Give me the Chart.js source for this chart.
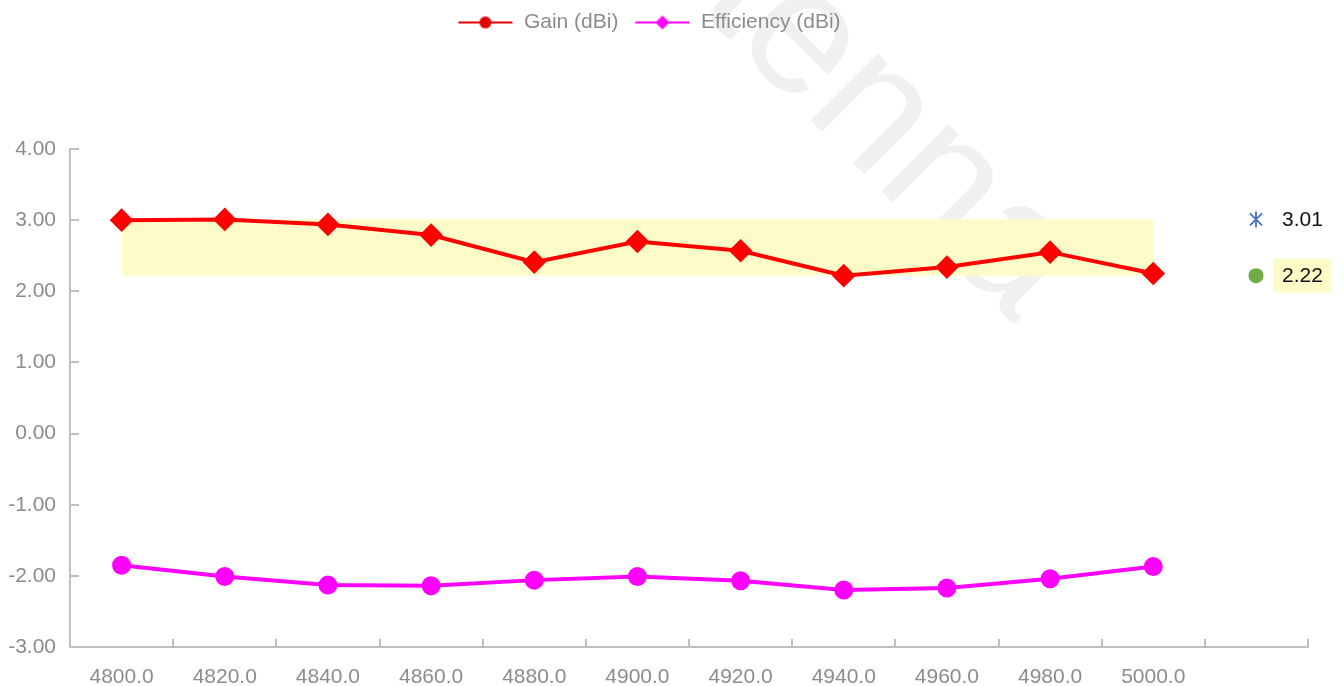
<!DOCTYPE html>
<html lang="en">
<head>
    <meta charset="UTF-8">
    <title>Gain / Efficiency</title>
    <script src="https://cdn.jsdelivr.net/npm/chart.js"></script>
    <style>
        html, body { margin: 0; padding: 0; background: #fff; }
        #wrap { width: 1344px; height: 686px; }
    </style>
</head>
<body>
    <div id="wrap"><canvas id="gainChart"></canvas></div>
    <script>
        // frequencies (MHz); last slot is left empty like the original sheet
        const freqs = ['4800.0', '4820.0', '4840.0', '4860.0', '4880.0', '4900.0', '4920.0', '4940.0', '4960.0', '4980.0', '5000.0', ''];
        const gain = [3.00, 3.01, 2.94, 2.79, 2.41, 2.70, 2.57, 2.22, 2.34, 2.55, 2.25, null];
        const efficiency = [-1.85, -2.01, -2.13, -2.14, -2.06, -2.01, -2.07, -2.20, -2.17, -2.04, -1.87, null];
        const yMin = -3, yMax = 4;

        const FONT = "'Liberation Sans', Arial, sans-serif";
        Chart.defaults.font.family = FONT;
        Chart.defaults.font.size = 21;

        const gainVals = gain.filter(v => v !== null);
        const gainMax = Math.max(...gainVals);
        const gainMin = Math.min(...gainVals);

        function legendIcon(color, shape) {
            const c = document.createElement('canvas');
            c.width = 56; c.height = 18;
            const g = c.getContext('2d');
            g.strokeStyle = color; g.fillStyle = color; g.lineWidth = 2;
            g.beginPath(); g.moveTo(1, 9); g.lineTo(55, 9); g.stroke();
            g.beginPath();
            if (shape === 'circle') {
                g.arc(28, 9, 6, 0, Math.PI * 2);
            } else {
                g.moveTo(28, 2); g.lineTo(35, 9); g.lineTo(28, 16); g.lineTo(21, 9); g.closePath();
            }
            g.fill();
            return c;
        }
        const icons = [legendIcon('#e00000', 'circle'), legendIcon('#ff00ff', 'diamond')];

        const legendSpace = {
            id: 'legendSpace',
            beforeInit(chart) {
                const fit = chart.legend.fit;
                chart.legend.fit = function () {
                    fit.bind(chart.legend)();
                    this.height = 153;
                };
            }
        };

        const extras = {
            id: 'extras',
            beforeDraw(chart) {
                // faint watermark
                const ctx = chart.ctx;
                ctx.save();
                ctx.translate(540, -150);
                ctx.rotate(Math.PI / 4);
                ctx.font = '180px ' + FONT;
                ctx.fillStyle = 'rgba(0,0,0,0.06)';
                ctx.textBaseline = 'alphabetic';
                ctx.fillText('Antenna', 0, 0);
                ctx.restore();
            },
            beforeDatasetsDraw(chart) {
                const { ctx, scales: { x, y } } = chart;
                ctx.save();
                ctx.fillStyle = '#fdfcc8';
                const x0 = x.getPixelForValue(0), x1 = x.getPixelForValue(gainVals.length - 1);
                const y0 = y.getPixelForValue(gainMax), y1 = y.getPixelForValue(gainMin);
                ctx.fillRect(x0, y0, x1 - x0, y1 - y0);
                ctx.restore();
            },
            afterDraw(chart) {
                const { ctx, chartArea, scales: { x, y } } = chart;
                ctx.save();
                // inward tick marks
                ctx.strokeStyle = '#bfbfbf';
                ctx.lineWidth = 2;
                y.ticks.forEach((t, i) => {
                    const py = Math.round(y.getPixelForTick(i));
                    ctx.beginPath(); ctx.moveTo(chartArea.left, py); ctx.lineTo(chartArea.left + 9, py); ctx.stroke();
                });
                for (let i = 0; i <= freqs.length; i++) {
                    const px = Math.round(x.getPixelForValue(i - 0.5));
                    ctx.beginPath(); ctx.moveTo(px, chartArea.bottom); ctx.lineTo(px, chartArea.bottom - 8); ctx.stroke();
                }
                // max / min markers on the right
                const mx = chartArea.right - 52;
                const yHi = y.getPixelForValue(gainMax), yLo = y.getPixelForValue(gainMin);
                ctx.strokeStyle = '#4472c4';
                ctx.lineWidth = 1.8;
                ctx.beginPath();
                ctx.moveTo(mx, yHi - 8); ctx.lineTo(mx, yHi + 8);
                ctx.moveTo(mx - 6, yHi - 6); ctx.lineTo(mx + 6, yHi + 6);
                ctx.moveTo(mx + 6, yHi - 6); ctx.lineTo(mx - 6, yHi + 6);
                ctx.stroke();
                ctx.fillStyle = '#70ad47';
                ctx.beginPath(); ctx.arc(mx, yLo, 7.5, 0, Math.PI * 2); ctx.fill();
                ctx.fillStyle = '#fdfcc8';
                ctx.fillRect(mx + 17, yLo - 17, 58, 34);
                ctx.font = '21px ' + FONT;
                ctx.fillStyle = '#111';
                ctx.textBaseline = 'middle';
                ctx.fillText(gainMax.toFixed(2), mx + 26, yHi + 1);
                ctx.fillText(gainMin.toFixed(2), mx + 26, yLo + 1);
                ctx.restore();
            }
        };

        const ctx = document.getElementById('gainChart').getContext('2d');
        const gainChart = new Chart(ctx, {
            type: 'line',
            data: {
                labels: freqs,
                datasets: [{
                    label: 'Gain (dBi)',
                    data: gain,
                    borderColor: '#ff0000',
                    backgroundColor: '#ff0000',
                    borderWidth: 4,
                    pointStyle: 'rectRot',
                    pointRadius: 9,
                    pointHoverRadius: 9,
                    tension: 0,
                    fill: false
                }, {
                    label: 'Efficiency (dBi)',
                    data: efficiency,
                    borderColor: '#ff00ff',
                    backgroundColor: '#ff00ff',
                    borderWidth: 4,
                    pointStyle: 'circle',
                    pointRadius: 7.5,
                    pointHoverRadius: 7.5,
                    tension: 0,
                    fill: false
                }]
            },
            options: {
                responsive: true,
                maintainAspectRatio: false,
                animation: false,
                layout: { padding: { right: 36, left: -10, top: -4 } },
                plugins: {
                    tooltip: { enabled: false },
                    legend: {
                        position: 'top',
                        labels: {
                            color: '#8c8c8c',
                            usePointStyle: true,
                            pointStyleWidth: 56,
                            padding: 16,
                            font: { size: 21 },
                            generateLabels(chart) {
                                return Chart.defaults.plugins.legend.labels.generateLabels(chart)
                                    .map((l, i) => ({ ...l, pointStyle: icons[i] }));
                            }
                        }
                    }
                },
                scales: {
                    x: {
                        type: 'category',
                        offset: true,
                        grid: { display: false, drawTicks: false },
                        border: { display: true, color: '#bfbfbf', width: 2 },
                        ticks: { color: '#8c8c8c', padding: 18, maxRotation: 0, autoSkip: false },
                        afterFit(scale) { scale.height = 39; }
                    },
                    y: {
                        min: yMin,
                        max: yMax,
                        grid: { display: false, drawTicks: false },
                        border: { display: true, color: '#bfbfbf', width: 2 },
                        ticks: {
                            stepSize: 1,
                            color: '#8c8c8c',
                            padding: 14,
                            callback: v => Number(v).toFixed(2)
                        },
                        afterFit(scale) { scale.width = 80; }
                    }
                }
            },
            plugins: [legendSpace, extras]
        });
    </script>
</body>
</html>
